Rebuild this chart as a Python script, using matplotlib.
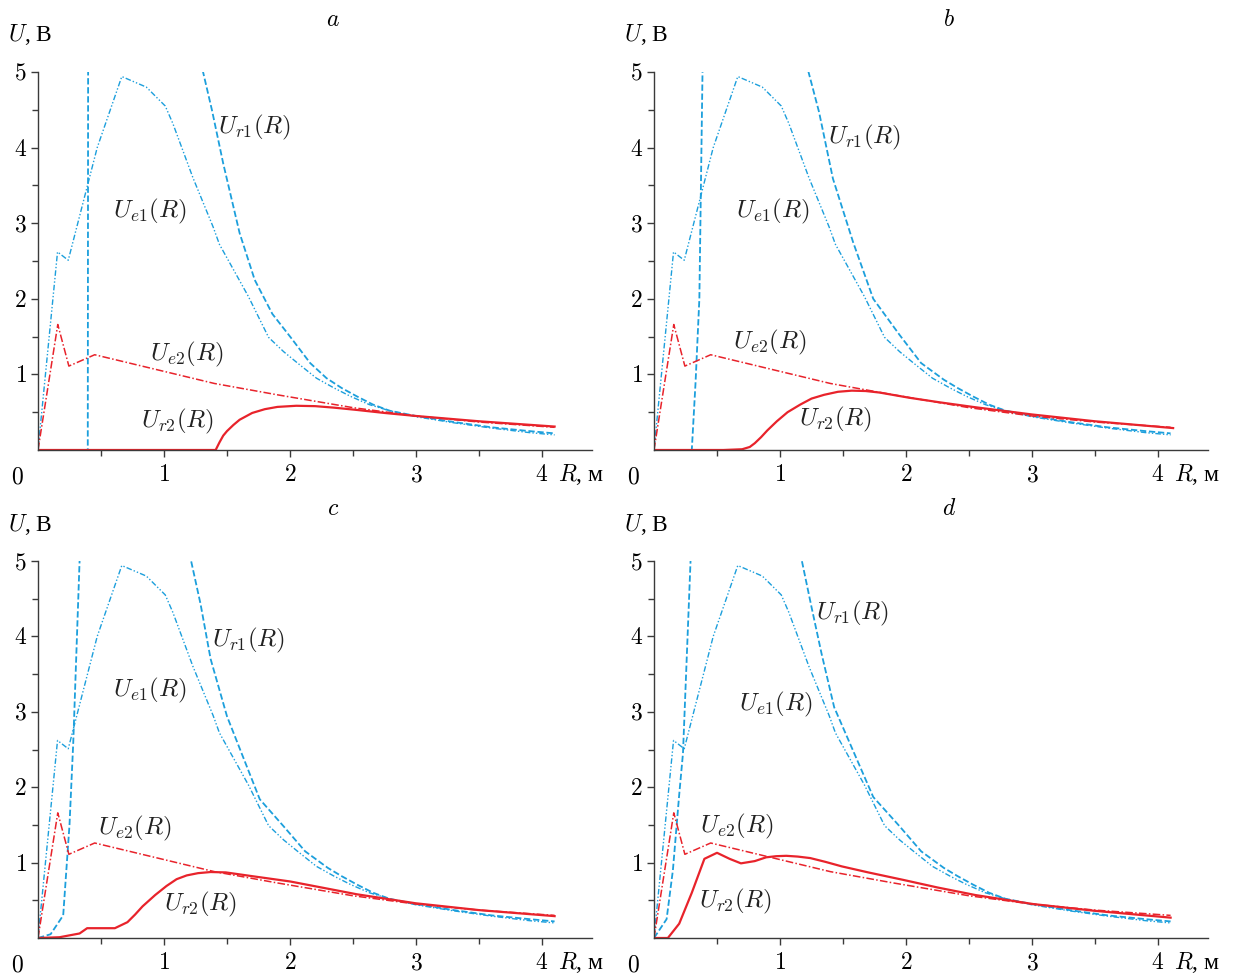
import matplotlib
matplotlib.use("Agg")
import matplotlib.pyplot as plt
import numpy as np

plt.rcParams['mathtext.fontset'] = 'cm'
plt.rcParams['font.family'] = ['Liberation Serif', 'DejaVu Serif']

# --- data (R in m, U in V) ---
# U_e1 and U_e2 look the same in all four panels
r_e1 = [0, 0.155, 0.24, 0.47, 0.665, 0.86, 1.01, 1.07, 1.23, 1.39, 1.44, 1.67,
        1.83, 1.95, 2.06, 2.21, 2.35, 2.48, 2.63, 2.79, 3.0, 3.3, 3.6, 3.9, 4.1]
u_e1 = [0, 2.62, 2.51, 4.0, 4.94, 4.8, 4.55, 4.32, 3.6, 2.95, 2.72, 2.03,
        1.49, 1.3, 1.15, 0.95, 0.82, 0.71, 0.6, 0.52, 0.44, 0.36, 0.29, 0.23, 0.2]

r_e2 = [0, 0.157, 0.245, 0.45, 1.0, 1.4, 1.9, 2.5, 3.0, 3.5, 4.1]
u_e2 = [0, 1.66, 1.11, 1.26, 1.04, 0.88, 0.73, 0.56, 0.45, 0.37, 0.3]

# U_r1 per panel (values above 5 are off the chart)
r_r1_a = [0, 0.395, 0.40, 1.28, 1.31, 1.38, 1.47, 1.6, 1.72, 1.86, 2.01, 2.16,
          2.29, 2.41, 2.53, 2.66, 2.79, 3.0, 3.3, 3.6, 3.9, 4.1]
u_r1_a = [0, 0, 9, 5.8, 5.0, 4.5, 3.79, 2.87, 2.25, 1.8, 1.48, 1.15,
          0.95, 0.82, 0.71, 0.6, 0.52, 0.45, 0.37, 0.3, 0.25, 0.22]

r_r1_b = [0, 0.30, 0.33, 0.36, 0.385, 0.40, 1.18, 1.22, 1.31, 1.42, 1.58, 1.74,
          1.95, 2.12, 2.3, 2.41, 2.53, 2.66, 2.79, 3.0, 3.3, 3.6, 3.9, 4.1]
u_r1_b = [0, 0, 0.9, 2.0, 5.0, 8, 6, 5.04, 4.47, 3.59, 2.75, 2.0,
          1.52, 1.15, 0.93, 0.82, 0.71, 0.6, 0.52, 0.45, 0.37, 0.3, 0.25, 0.22]

r_r1_c = [0, 0.1, 0.2, 0.25, 0.28, 0.33, 0.35, 1.17, 1.21, 1.29, 1.37, 1.5,
          1.76, 1.95, 2.12, 2.3, 2.41, 2.53, 2.66, 2.79, 3.0, 3.3, 3.6, 3.9, 4.1]
u_r1_c = [0, 0.05, 0.3, 1.5, 2.6, 5.0, 8, 6, 5.04, 4.43, 3.7, 2.94,
          1.84, 1.48, 1.15, 0.93, 0.82, 0.71, 0.6, 0.52, 0.45, 0.37, 0.3, 0.25, 0.22]

r_r1_d = [0, 0.1, 0.15, 0.2, 0.23, 0.29, 0.31, 1.13, 1.17, 1.25, 1.33, 1.43,
          1.74, 1.95, 2.12, 2.3, 2.41, 2.53, 2.66, 2.79, 3.0, 3.3, 3.6, 3.9, 4.1]
u_r1_d = [0, 0.25, 0.9, 1.9, 2.45, 5.0, 8, 6, 5.03, 4.39, 3.77, 3.06,
          1.87, 1.48, 1.15, 0.93, 0.82, 0.71, 0.6, 0.52, 0.45, 0.37, 0.3, 0.25, 0.22]

# U_r2 per panel
r_r2_a = [0, 1.41, 1.44, 1.47, 1.5, 1.55, 1.6, 1.7, 1.8, 1.9, 2.05, 2.2, 2.35,
          2.53, 2.75, 3.0, 3.5, 4.1]
u_r2_a = [0, 0, 0.1, 0.19, 0.25, 0.33, 0.40, 0.49, 0.54, 0.57, 0.585, 0.58, 0.56,
          0.53, 0.49, 0.45, 0.38, 0.31]

r_r2_b = [0, 0.55, 0.7, 0.76, 0.8, 0.85, 0.9, 0.975, 1.06, 1.16, 1.25, 1.35, 1.46,
          1.57, 1.68, 1.79, 2.03, 2.27, 2.53, 3.0, 3.5, 4.12]
u_r2_b = [0, 0, 0.01, 0.04, 0.09, 0.17, 0.26, 0.38, 0.5, 0.6, 0.68, 0.73, 0.77,
          0.785, 0.78, 0.76, 0.69, 0.63, 0.57, 0.47, 0.38, 0.29]

r_r2_c = [0, 0.17, 0.33, 0.39, 0.61, 0.71, 0.77, 0.83, 0.93, 1.02, 1.1, 1.18,
          1.27, 1.37, 1.49, 1.7, 2.0, 2.25, 2.53, 3.0, 3.5, 4.1]
u_r2_c = [0, 0.01, 0.06, 0.13, 0.13, 0.21, 0.31, 0.42, 0.57, 0.69, 0.78, 0.83,
          0.86, 0.875, 0.87, 0.82, 0.75, 0.67, 0.58, 0.46, 0.37, 0.29]

r_r2_d = [0, 0.11, 0.2, 0.3, 0.4, 0.5, 0.6, 0.69, 0.8, 0.89, 0.97, 1.05, 1.14,
          1.24, 1.36, 1.49, 1.7, 1.98, 2.25, 2.55, 3.01, 3.5, 4.1]
u_r2_d = [0, 0, 0.19, 0.6, 1.05, 1.13, 1.05, 0.99, 1.02, 1.07, 1.085, 1.09, 1.08,
          1.06, 1.01, 0.95, 0.87, 0.77, 0.67, 0.57, 0.45, 0.36, 0.27]

panel_letters = ['a', 'b', 'c', 'd']
x_ticks = [1, 2, 3, 4]
y_ticks = [1, 2, 3, 4, 5]

# label anchor points (R, U) for Ur1, Ue1, Ue2, Ur2
label_pos = {
    'a': [(1.72, 4.26), (0.89, 3.15), (1.18, 1.27), (1.11, 0.38)],
    'b': [(1.67, 4.14), (0.94, 3.15), (0.92, 1.42), (1.44, 0.40)],
    'c': [(1.675, 3.94), (0.89, 3.28), (0.77, 1.455), (1.29, 0.44)],
    'd': [(1.58, 4.30), (0.97, 3.10), (0.66, 1.48), (0.65, 0.49)],
}

r1_data = {'a': (r_r1_a, u_r1_a), 'b': (r_r1_b, u_r1_b),
           'c': (r_r1_c, u_r1_c), 'd': (r_r1_d, u_r1_d)}
r2_data = {'a': (r_r2_a, u_r2_a), 'b': (r_r2_b, u_r2_b),
           'c': (r_r2_c, u_r2_c), 'd': (r_r2_d, u_r2_d)}

blue = '#1c9fdc'
red = '#e8232b'
axis_col = '#3a3a3a'

W, H = 1233, 976
fig = plt.figure(figsize=(W / 100, H / 100), dpi=100)

# pixel boxes: (x of R=0, y of U=0, y of U=5)
unit_x = 126.0
xmax = 4.4
boxes = {'a': (38, 450, 72), 'b': (654, 450, 72),
         'c': (38, 938, 561), 'd': (654, 938, 561)}

for p in panel_letters:
    x0, yb, yt = boxes[p]
    ax = fig.add_axes([x0 / W, 1 - yb / H, xmax * unit_x / W, (yb - yt) / H])

    ax.plot(r_e1, u_e1, color=blue, lw=1.0, ls=(0, (4, 1.5, 1, 1.5, 1, 1.5)))
    ax.plot(*r1_data[p], color=blue, lw=1.3, ls=(0, (3.5, 1.5)))
    ax.plot(r_e2, u_e2, color=red, lw=1.1, ls=(0, (5, 1.5, 1, 1.5)))
    ax.plot(*r2_data[p], color=red, lw=1.6, ls='-')

    ax.set_xlim(0, xmax)
    ax.set_ylim(0, 5)
    for s in ['top', 'right']:
        ax.spines[s].set_visible(False)
    for s in ['left', 'bottom']:
        ax.spines[s].set_color(axis_col)
        ax.spines[s].set_linewidth(1.0)

    ax.set_xticks(x_ticks)
    ax.set_xticklabels([f'${t}$' for t in x_ticks])
    ax.set_yticks(y_ticks)
    ax.set_yticklabels([f'${t}$' for t in y_ticks])
    ax.set_xticks(np.arange(0.5, 4.0, 1.0), minor=True)
    ax.set_yticks(np.arange(0.5, 5.0, 1.0), minor=True)
    ax.tick_params(which='both', direction='out', color=axis_col, width=1.0,
                   labelsize=17)
    ax.tick_params(which='major', length=5)
    ax.tick_params(which='minor', length=4)
    ax.tick_params(axis='x', pad=6)
    ax.tick_params(axis='y', pad=3)

    ax.text(-0.167, -0.37, '$0$', fontsize=17, ha='center', va='center',
            clip_on=False)
    ax.text(4.13, -0.33, '$R$, м', fontsize=17, ha='left', va='center',
            clip_on=False)
    ax.text(-0.24, 5.49, '$U$, В', fontsize=17, ha='left', va='center',
            clip_on=False)
    ax.text(2.34, 5.68, f'${p}$', fontsize=17, ha='center', va='center',
            clip_on=False)

    names = [r'$U_{r1}(R)$', r'$U_{e1}(R)$', r'$U_{e2}(R)$', r'$U_{r2}(R)$']
    for name, (lx, ly) in zip(names, label_pos[p]):
        ax.text(lx, ly, name, fontsize=18, ha='center', va='center',
                color='#222222')

fig.savefig('out.png', dpi=100)
